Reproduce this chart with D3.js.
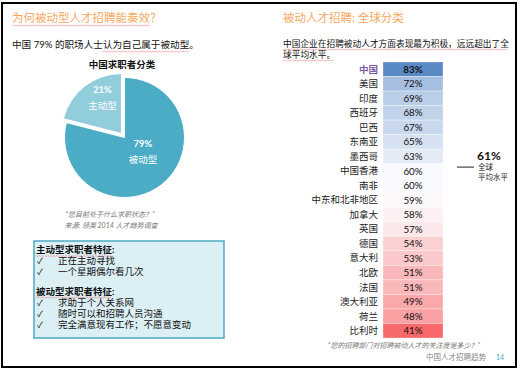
<!DOCTYPE html>
<html>
<head>
<meta charset="utf-8">
<script src="https://cdn.jsdelivr.net/npm/d3@7"></script>
<style>
    body { margin: 0; background: #fff; }
    svg text { font-family: Lato, "Noto Sans CJK SC", sans-serif; }
</style>
</head>
<body>
<div id="chart"></div>
<script>
// pie data
var pieLabels = ["被动型", "主动型"];
var pieValues = [79, 21];
var pieColors = ["#4BACC6", "#92CDDC"];

// table data
var countries = ["中国", "美国", "印度", "西班牙", "巴西", "东南亚", "墨西哥", "中国香港", "南非",
    "中东和北非地区", "加拿大", "英国", "德国", "意大利", "北欧", "法国", "澳大利亚", "荷兰", "比利时"];
var shares = [83, 72, 69, 68, 67, 65, 63, 60, 60, 59, 58, 57, 54, 53, 51, 51, 49, 48, 41];
var globalAvg = 61;

var activeTraits = ["正在主动寻找", "一个星期偶尔看几次"];
var passiveTraits = ["求助于个人关系网", "随时可以和招聘人员沟通", "完全满意现有工作；不愿意变动"];

var W = 520, H = 372;
var svg = d3.select("#chart").append("svg")
    .attr("width", W)
    .attr("height", H);

// page frame
svg.append("rect")
    .attr("x", 2).attr("y", 3)
    .attr("width", 514).attr("height", 364)
    .attr("fill", "none")
    .attr("stroke", "#000")
    .attr("stroke-width", 2);

// red wavy "spellcheck" underline
var squiggle = function (x0, x1, y) {
    var pts = [];
    for (var x = x0, k = 0; x <= x1; x += 1.5, k++) {
        pts.push([x, y + (k % 2 ? 1 : 0)]);
    }
    svg.append("path")
        .attr("d", d3.line()(pts))
        .attr("fill", "none")
        .attr("stroke", "#F08080")
        .attr("stroke-width", 0.6);
};

//region left panel
svg.append("text")
    .attr("x", 12).attr("y", 22)
    .attr("font-size", 11.5)
    .attr("fill", "#F5A85E")
    .text("为何被动型人才招聘能奏效？");
squiggle(12, 150, 25);

svg.append("text")
    .attr("x", 12).attr("y", 48)
    .attr("font-size", 9.6)
    .attr("fill", "#111")
    .text("中国 79% 的职场人士认为自己属于被动型。");
squiggle(102, 190, 51);

svg.append("text")
    .attr("x", 122).attr("y", 68)
    .attr("text-anchor", "middle")
    .attr("font-size", 9.5)
    .attr("font-weight", "bold")
    .attr("fill", "#111")
    .text("中国求职者分类");

var pieR = 60, cx = 124.5, cy = 137.5;
var pie = d3.pie().sort(null).value(function (d) { return d; });
var arcs = pie(pieValues);
var arc = d3.arc().innerRadius(0).outerRadius(pieR);
var pieG = svg.append("g").attr("transform", "translate(" + cx + "," + cy + ")");

arcs.forEach(function (d, i) {
    var mid = (d.startAngle + d.endAngle) / 2;
    var off = i === 1 ? 5 : 0;
    var dx = Math.sin(mid) * off, dy = -Math.cos(mid) * off;
    var g = pieG.append("g").attr("transform", "translate(" + dx + "," + dy + ")");
    g.append("path")
        .attr("d", arc(d))
        .attr("fill", pieColors[i])
        .attr("stroke", "#fff")
        .attr("stroke-width", 1);
    // label spots picked to sit where the slide had them
    var lx = i === 0 ? 18.5 : -19;
    var ly = i === 0 ? 12 : -38;
    g.append("text")
        .attr("x", lx).attr("y", ly - 3)
        .attr("text-anchor", "middle")
        .attr("font-size", 9.5)
        .attr("font-weight", "bold")
        .attr("fill", "#fff")
        .text(pieValues[i] + "%");
    g.append("text")
        .attr("x", lx).attr("y", ly + 13)
        .attr("text-anchor", "middle")
        .attr("font-size", 9.5)
        .attr("fill", "#fff")
        .text(pieLabels[i]);
});

svg.append("text")
    .attr("x", 110).attr("y", 217)
    .attr("text-anchor", "middle")
    .attr("font-size", 7)
    .attr("font-style", "italic")
    .attr("fill", "#777")
    .text("“您目前处于什么求职状态？”");
svg.append("text")
    .attr("x", 111).attr("y", 228)
    .attr("text-anchor", "middle")
    .attr("font-size", 7)
    .attr("font-style", "italic")
    .attr("fill", "#777")
    .text("来源: 领英 2014 人才趋势调查");

// traits box
svg.append("rect")
    .attr("x", 34).attr("y", 241)
    .attr("width", 190).attr("height", 97)
    .attr("fill", "#DCEFF5")
    .attr("stroke", "#4BACC6")
    .attr("stroke-width", 1.5);

var boxLines = [];
boxLines.push({ t: "主动型求职者特征:", head: true });
activeTraits.forEach(function (t) { boxLines.push({ t: t }); });
boxLines.push({ t: "", gap: true });
boxLines.push({ t: "被动型求职者特征:", head: true });
passiveTraits.forEach(function (t) { boxLines.push({ t: t }); });

var lineY = d3.scaleLinear().domain([0, boxLines.length - 1]).range([253, 330]);
boxLines.forEach(function (d, i) {
    if (d.gap) return;
    var y = lineY(i) + (i > 3 ? -2.5 : 0);
    if (d.head) {
        svg.append("text")
            .attr("x", 36).attr("y", y)
            .attr("font-size", 9.5)
            .attr("font-weight", "bold")
            .attr("fill", "#111")
            .text(d.t);
        squiggle(36, 112, y + 2.5);
    } else {
        svg.append("text")
            .attr("x", 37).attr("y", y)
            .attr("font-size", 8.5)
            .attr("fill", "#111")
            .text("✓");
        svg.append("text")
            .attr("x", 58).attr("y", y)
            .attr("font-size", 9.5)
            .attr("fill", "#111")
            .text(d.t);
    }
});
//endregion

//region right panel
svg.append("text")
    .attr("x", 283).attr("y", 22)
    .attr("font-size", 11.5)
    .attr("fill", "#F5A85E")
    .text("被动人才招聘: 全球分类");

svg.append("text")
    .attr("x", 283).attr("y", 47)
    .attr("font-size", 8.7)
    .attr("fill", "#111")
    .text("中国企业在招聘被动人才方面表现最为积极，远远超出了全");
svg.append("text")
    .attr("x", 283).attr("y", 58)
    .attr("font-size", 8.7)
    .attr("fill", "#111")
    .text("球平均水平。");
squiggle(283, 508, 49);
squiggle(283, 335, 60);

var y = d3.scaleBand().domain(countries).range([62, 338]).padding(0);
var color = d3.scaleLinear()
    .domain([41, 59.5, 83])
    .range(["#F8696B", "#FCFCFF", "#5A8AC6"]);
var cellX = 383, cellW = 60;

var rows = svg.append("g").selectAll("g")
    .data(countries)
    .join("g")
    .attr("transform", function (d) { return "translate(0," + y(d) + ")"; });

rows.append("rect")
    .attr("x", cellX).attr("width", cellW)
    .attr("height", y.bandwidth())
    .attr("fill", function (d, i) { return color(shares[i]); })
    .attr("stroke", "#fff")
    .attr("stroke-opacity", 0.5)
    .attr("stroke-width", 0.6);

rows.append("text")
    .attr("x", 378)
    .attr("y", y.bandwidth() / 2 + 3.4)
    .attr("text-anchor", "end")
    .attr("font-size", 9.5)
    .attr("font-weight", function (d, i) { return i === 0 ? "bold" : "normal"; })
    .attr("fill", function (d, i) { return i === 0 ? "#7E5BA6" : "#222"; })
    .text(function (d) { return d; });

rows.append("text")
    .attr("x", cellX + cellW / 2)
    .attr("y", y.bandwidth() / 2 + 3.6)
    .attr("text-anchor", "middle")
    .attr("font-size", 9.8)
    .attr("font-weight", function (d, i) { return i === 0 ? "bold" : "normal"; })
    .attr("fill", "#111")
    .text(function (d, i) { return shares[i] + "%"; });

// global average marker, placed between the rows it falls between
var above = shares.findIndex(function (v) { return v < globalAvg; });
var yAvg = d3.scaleLinear()
    .domain([shares[above - 1], shares[above]])
    .range([y(countries[above - 1]) + y.bandwidth() / 2, y(countries[above]) + y.bandwidth() / 2])(globalAvg);

svg.append("line")
    .attr("x1", 457).attr("x2", 474)
    .attr("y1", yAvg + 1).attr("y2", yAvg + 1)
    .attr("stroke", "#444")
    .attr("stroke-width", 1.2);
svg.append("text")
    .attr("x", 477).attr("y", yAvg - 6)
    .attr("font-size", 12)
    .attr("font-weight", "bold")
    .attr("fill", "#111")
    .text(globalAvg + "%");
svg.append("text")
    .attr("x", 478).attr("y", yAvg + 4)
    .attr("font-size", 7.5)
    .attr("fill", "#222")
    .text("全球");
svg.append("text")
    .attr("x", 478).attr("y", yAvg + 14)
    .attr("font-size", 7.5)
    .attr("fill", "#222")
    .text("平均水平");

svg.append("text")
    .attr("x", 404).attr("y", 348)
    .attr("text-anchor", "middle")
    .attr("font-size", 7)
    .attr("font-style", "italic")
    .attr("fill", "#777")
    .text("“您的招聘部门对招聘被动人才的关注度是多少？”");
svg.append("text")
    .attr("x", 486).attr("y", 360)
    .attr("text-anchor", "end")
    .attr("font-size", 7.5)
    .attr("fill", "#888")
    .text("中国人才招聘趋势");
svg.append("text")
    .attr("x", 496).attr("y", 360)
    .attr("font-size", 7)
    .attr("fill", "#4BACC6")
    .text("14");
//endregion
</script>
</body>
</html>
